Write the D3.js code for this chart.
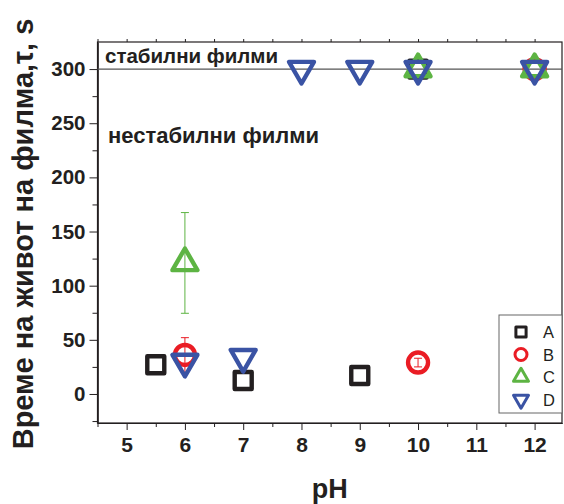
<!DOCTYPE html>
<html>
<head>
<meta charset="utf-8">
<script src="https://cdn.jsdelivr.net/npm/d3@7"></script>
<style>
  html, body { margin: 0; padding: 0; background: #fff; }
  svg { display: block; font-family: "Liberation Sans", Arial, sans-serif; }
</style>
</head>
<body>
<svg id="chart" width="564" height="504"></svg>
<script>
// Film lifetime vs pH for four systems (A–D)
const seriesNames = ["A", "B", "C", "D"];
const seriesColors = ["#231f20", "#ea1c24", "#5db443", "#3a53a4"];
const seriesShapes = ["square", "circle", "triangleUp", "triangleDown"];

const phA = [5.5, 7, 9, 10];
const tauA = [27, 12.5, 17, 300];
const errA = [0, 0, 0, 0];

const phB = [6, 10, 12];
const tauB = [36, 29, 300];
const errB = [16, 4, 0];

const phC = [6, 10, 12];
const tauC = [121, 300, 300];
const errC = [46.5, 0, 0];

const phD = [6, 7, 8, 9, 10, 12];
const tauD = [29.5, 34, 300, 300, 300, 300];
const errD = [0, 0, 0, 0, 0, 0];

const xTicks = [5, 6, 7, 8, 9, 10, 11, 12];
const yTicks = [0, 50, 100, 150, 200, 250, 300];
const stableLimit = 300;

const series = [
  { ph: phA, tau: tauA, err: errA },
  { ph: phB, tau: tauB, err: errB },
  { ph: phC, tau: tauC, err: errC },
  { ph: phD, tau: tauD, err: errD }
];

const svg = d3.select("#chart");
const plotL = 97.5, plotR = 562, plotT = 42, plotB = 423;

const x = d3.scaleLinear().domain([4.5, 12.47]).range([plotL, plotR]);
const y = d3.scaleLinear().domain([-26.8, 325]).range([plotB, plotT]);

const axisColor = "#231f20";
const fontFam = "Liberation Sans, Arial, sans-serif";

// frame
svg.append("rect")
  .attr("x", plotL).attr("y", plotT)
  .attr("width", plotR - plotL).attr("height", plotB - plotT)
  .attr("fill", "none").attr("stroke", axisColor).attr("stroke-width", 1.2);

// bottom axis: major + minor ticks
const xMinor = d3.range(4.5, 12.5, 0.5).filter(v => !xTicks.includes(v));
const gx = svg.append("g").attr("transform", `translate(0,${plotB})`);
gx.call(d3.axisBottom(x).tickValues(xTicks).tickSize(7).tickSizeOuter(0).tickPadding(7).tickFormat(d3.format("d")));
gx.append("g").call(d3.axisBottom(x).tickValues(xMinor).tickSize(4).tickSizeOuter(0).tickFormat(""));
gx.selectAll(".domain").attr("stroke", axisColor).attr("stroke-width", 1.2);
gx.selectAll("line").attr("stroke", axisColor);
gx.selectAll("text").attr("font-size", 21).attr("font-weight", "bold").attr("fill", axisColor)
  .attr("font-family", fontFam);

// top ticks
const gxt = svg.append("g").attr("transform", `translate(0,${plotT})`);
gxt.call(d3.axisTop(x).tickValues(d3.range(4.5, 12.5, 0.5)).tickSize(3).tickSizeOuter(0).tickFormat(""));
gxt.selectAll(".domain").remove();
gxt.selectAll("line").attr("stroke", axisColor);

// left axis
const yMinor = d3.range(-25, 325, 25).filter(v => !yTicks.includes(v));
const gy = svg.append("g").attr("transform", `translate(${plotL},0)`);
gy.call(d3.axisLeft(y).tickValues(yTicks).tickSize(8).tickSizeOuter(0).tickPadding(4).tickFormat(d3.format("d")));
gy.append("g").call(d3.axisLeft(y).tickValues(yMinor).tickSize(5).tickSizeOuter(0).tickFormat(""));
gy.selectAll(".domain").attr("stroke", axisColor).attr("stroke-width", 1.2);
gy.selectAll("line").attr("stroke", axisColor);
gy.selectAll("text").attr("font-size", 20.5).attr("font-weight", "bold").attr("fill", axisColor)
  .attr("font-family", fontFam);

// stability threshold line
svg.append("line")
  .attr("x1", plotL).attr("x2", plotR)
  .attr("y1", y(stableLimit)).attr("y2", y(stableLimit))
  .attr("stroke", "#555").attr("stroke-width", 1.2);

svg.append("text").attr("x", 105).attr("y", 63)
  .attr("font-size", 20.5).attr("font-weight", "bold").attr("fill", axisColor)
  .text("стабилни филми");
svg.append("text").attr("x", 108).attr("y", 143)
  .attr("font-size", 22).attr("font-weight", "bold").attr("fill", axisColor)
  .text("нестабилни филми");

// axis titles
svg.append("text")
  .attr("transform", `translate(33,234) rotate(-90)`)
  .attr("text-anchor", "middle")
  .attr("font-size", 29).attr("font-weight", "bold").attr("fill", axisColor)
  .text("Време на живот на филма,τ, s");
svg.append("text")
  .attr("x", (plotL + plotR) / 2).attr("y", 498)
  .attr("text-anchor", "middle")
  .attr("font-size", 27).attr("font-weight", "bold").attr("fill", axisColor)
  .text("pH");

// marker shapes
function symbolFor(shape, scale) {
  const s = scale || 1;
  switch (shape) {
    case "square": return d3.symbol(d3.symbolSquare, 289 * s * s)();
    case "circle": return d3.symbol(d3.symbolCircle, 314 * s * s)();
    default: return d3.symbol(d3.symbolTriangle, 270 * s * s)();
  }
}

const plot = svg.append("g");
series.forEach((sr, i) => {
  const color = seriesColors[i];
  const shape = seriesShapes[i];
  const g = plot.append("g");
  sr.ph.forEach((p, j) => {
    const cx = x(p);
    const e = sr.err[j];
    if (e > 0) {
      const capW = 4;
      const eg = g.append("g").attr("stroke", color).attr("stroke-width", 1);
      eg.append("line").attr("x1", cx).attr("x2", cx).attr("y1", y(sr.tau[j] + e)).attr("y2", y(sr.tau[j] - e));
      eg.append("line").attr("x1", cx - capW).attr("x2", cx + capW).attr("y1", y(sr.tau[j] + e)).attr("y2", y(sr.tau[j] + e));
      eg.append("line").attr("x1", cx - capW).attr("x2", cx + capW).attr("y1", y(sr.tau[j] - e)).attr("y2", y(sr.tau[j] - e));
    }
  });
  sr.ph.forEach((p, j) => {
    const cx = x(p), cy = y(sr.tau[j]);
    g.append("path")
      .attr("d", symbolFor(shape))
      .attr("transform", `translate(${cx},${cy})` + (shape === "triangleDown" ? " rotate(180)" : ""))
      .attr("fill", "none")
      .attr("stroke", color)
      .attr("stroke-width", 4.4)
      .attr("stroke-linejoin", "round");
  });
});

// legend
const lg = svg.append("g");
lg.append("rect").attr("x", 499).attr("y", 315).attr("width", plotR - 499).attr("height", 98)
  .attr("fill", "#fff").attr("stroke", "#666").attr("stroke-width", 1);
seriesNames.forEach((name, i) => {
  const ly = 332 + i * 22.5;
  lg.append("path")
    .attr("d", symbolFor(seriesShapes[i], 0.6))
    .attr("transform", `translate(521,${ly})` + (seriesShapes[i] === "triangleDown" ? " rotate(180)" : ""))
    .attr("fill", "none").attr("stroke", seriesColors[i]).attr("stroke-width", 3)
    .attr("stroke-linejoin", "round");
  lg.append("text").attr("x", 543).attr("y", ly + 6)
    .attr("font-size", 16.5).attr("fill", axisColor).text(name);
});
</script>
</body>
</html>
